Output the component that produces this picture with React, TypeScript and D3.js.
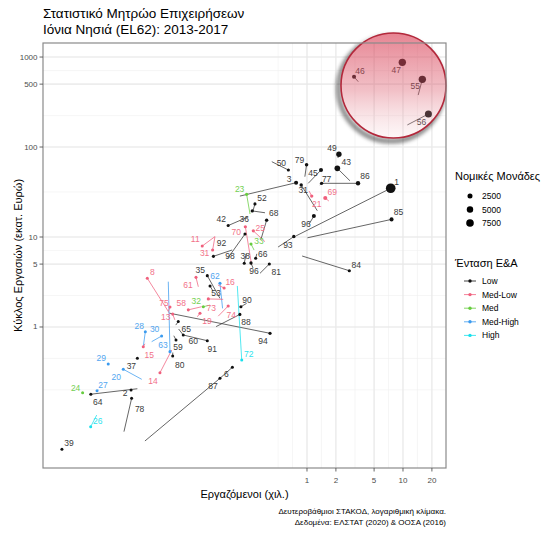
import React, { useEffect } from "react";
import * as d3 from "d3";

// ---------------- DATA ----------------
const codes = ["1","85","84","86","43","49","77","45","79","50","3","31","21","69","96","93","23","52","36","42","68","70","25","33","11","31","92","98","38","66","96","81","35","53","62","16","61","58","32","73","74","19","90","88","94","72","8","63","75","13","65","60","91","59","80","28","15","30","14","29","37","20","24","27","64","2","78","26","39","87","6","46","47","55","56"];
const intensity = ["Low","Low","Low","Low","Low","Low","Low","Low","Low","Low","Low","Low","Med-Low","Med-Low","Low","Low","Med","Low","Low","Low","Low","Med-Low","Med-Low","Med","Med-Low","Med-Low","Low","Low","Low","Low","Low","Low","Low","Low","Med-High","Med-Low","Med-Low","Med-Low","Med","Med-Low","Med-Low","Med-Low","Low","Low","Low","High","Med-Low","Med-High","Med-Low","Med-Low","Low","Low","Low","Low","Low","Med-High","Med-Low","Med-High","Med-Low","Med-High","Low","Med-High","Med","Med-High","Low","Low","Low","High","Low","Low","Low","Low","Low","Low","Low"];
const legalUnits = [13000,1100,150,1600,3500,3100,300,1100,500,150,1100,400,300,1200,1100,500,200,150,200,100,400,200,200,150,50,150,100,100,60,100,300,150,100,30,100,80,20,30,40,150,150,40,100,60,200,20,30,60,30,40,30,10,20,20,20,5,10,10,30,3,5,8,2,3,5,10,3,2,1,20,40,1100,7000,7000,6200];
const emp2013 = [0.77,1.01,0.89,1.42,2.8,2.1,1.36,1.03,0.95,0.43,0.2,1.28,1.05,1.69,1.05,0.5,0.255,0.272,0.365,0.243,0.33,0.265,0.365,0.281,0.11,0.11,0.166,0.15,0.232,0.3,0.274,0.324,0.124,0.105,0.132,0.118,0.0738,0.08,0.0977,0.134,0.119,0.072,0.235,0.113,0.0374,0.188,0.0374,0.0359,0.036,0.042,0.043,0.046,0.0514,0.041,0.04,0.0197,0.0205,0.0241,0.039,0.0085,0.0171,0.019,0.0046,0.0067,0.0171,0.0147,0.0124,0.00645,0.0028,0.0205,0.124,3.42,9.6,14.4,11.1];
const turn2013 = [10.3,9.8,6.15,39.5,42.2,75.5,38,39.5,46.8,68.7,28.5,19.6,32.5,25.1,13.9,7.74,18,19.1,18.6,16.7,9.26,4.89,8.87,7.17,10.1,10.1,7.17,5.84,6.47,6.5,4.53,3.95,2.08,2.5,1.61,2.93,2.8,1.68,1.75,2.03,1.32,1.3,1.83,1.01,1.42,2.86,1.39,3.19,1.5,1.2,1.05,0.95,0.815,0.8,0.52,0.604,0.65,0.687,0.555,0.388,0.449,0.262,0.186,0.2,0.206,0.199,0.0687,0.105,0.0438,0.0541,0.269,532,850,378,176];
const emp2017 = [7.45,7.6,2.76,3.4,2.07,2.15,1.42,1.4,0.99,0.64,0.77,0.87,1.12,1.55,1.18,0.73,0.235,0.287,0.269,0.151,0.38,0.228,0.276,0.261,0.081,0.104,0.106,0.226,0.222,0.292,0.261,0.405,0.0915,0.0977,0.124,0.137,0.0698,0.058,0.0832,0.0938,0.151,0.0768,0.205,0.2,0.412,0.209,0.0217,0.0374,0.0374,0.0399,0.0456,0.0514,0.0915,0.0432,0.0399,0.0207,0.0197,0.0306,0.0294,0.0085,0.0171,0.0122,0.0046,0.0065,0.0056,0.0147,0.0149,0.00558,0.0028,0.124,0.167,3.09,9.84,15.9,18.4];
const turn2017 = [34.8,15.7,4.22,39.5,58,83,39.5,55.5,63.6,55.5,40.1,37.8,28.5,27.1,17.1,10.1,29.8,23.3,19.5,13.4,15.4,13,11.7,8.36,7.94,7.17,6.1,10.8,5.1,5.8,5.14,5.01,3.72,2.86,3.06,2.71,3.56,1.55,1.68,2.05,1.71,1.42,1.68,1.38,0.851,0.43,3.48,0.532,1.67,1.39,1.15,0.815,0.704,0.717,0.476,0.887,0.604,0.794,0.31,0.388,0.449,0.339,0.186,0.196,0.179,0.199,0.161,0.078,0.0438,0.269,0.357,604,873,565,233];

const intensityLevels = ["Low","Med-Low","Med","Med-High","High"];
const sizeBreaks = [2500, 5000, 7500];
const xTicks = [1, 2, 5, 10, 20];
const yTicks = [1, 5, 10, 100, 500, 1000];
const highlightCenter = { emp: 7.96, turn: 482 };

const titleLines = ["Στατιστικό Μητρώο Επιχειρήσεων", "Ιόνια Νησιά (EL62): 2013-2017"];
const xTitle = "Εργαζόμενοι (χιλ.)";
const yTitle = "Κύκλος Εργασιών (εκατ. Ευρώ)";
const captionLines = ["Δευτεροβάθμιοι ΣΤΑΚΟΔ, λογαριθμική κλίμακα.", "Δεδομένα: ΕΛΣΤΑΤ (2020) & ΟΟΣΑ (2016)"];
const sizeLegendTitle = "Νομικές Μονάδες";
const colorLegendTitle = "Ένταση Ε&Α";

// ---------------- LAYOUT ----------------
const labelNudge: [number, number][] = [
  [6,-6],[7,-7],[7,-6],[7,-7],[9,-6],[-7,-6],[5,-4],[-8,3],[-7,-5],[-7,-7],[-7,-4],[2,5],[5,8],[7,-6],[-8,8],[-6,8],
  [-7,-5],[7,-6],[-8,8],[-7,-7],[7,-7],[-9,5],[7,-3],[8,-3],[-7,-7],[-8,3],[8,-13],[-15,22],[1,-7],[7,-4],[3,8],[7,8],
  [-7,-6],[6,7],[-5,-7],[6,-6],[-8,8],[-7,-7],[-7,-6],[3,9],[3,9],[7,8],[6,-7],[6,8],[-7,8],[7,-6],[5,-6],[-7,-7],
  [-6,-4],[-7,3],[8,7],[10,6],[5,8],[2,7],[7,9],[-6,-6],[6,8],[-7,-7],[-7,8],[-7,-6],[-6,8],[-7,8],[-7,-5],[6,-6],
  [7,8],[-6,3],[8,11],[7,-6],[7,-6],[-7,8],[-6,7],[6,-6],[-6,8],[-7,7],[-7,8]
];

const W = 551, H = 533;
const P = { left: 43, right: 446, top: 43, bottom: 468 };
const FONT = "'Liberation Sans', Arial, Helvetica, sans-serif";

const palette: Record<string, string> = {
  "Low": "#111111",
  "Med-Low": "#F0607D",
  "Med": "#66CC3F",
  "Med-High": "#3B9BEF",
  "High": "#18E0EC",
};
const labelColor: Record<string, string> = {
  "Low": "#3a3a3a",
  "Med-Low": "#F27289",
  "Med": "#74CF52",
  "Med-High": "#52A6F0",
  "High": "#2EE3EE",
};

function minorBreaks(majorsLog: number[], lo: number, hi: number): number[] {
  const b = [...majorsLog].sort((a, c) => a - c);
  const bd = b[1] - b[0];
  if (lo < b[0]) b.unshift(b[0] - bd);
  if (hi > b[b.length - 1]) b.push(b[b.length - 1] + bd);
  const out: number[] = [];
  for (let i = 0; i < b.length - 1; i++) { out.push(b[i]); out.push((b[i] + b[i + 1]) / 2); }
  out.push(b[b.length - 1]);
  return out.filter((v) => v >= lo && v <= hi);
}

export default function App() {
  useEffect(() => {
    document.body.style.margin = "0";
  }, []);

  const x = d3.scaleLog().domain([Math.pow(10, -2.75), Math.pow(10, 1.448)]).range([P.left, P.right]);
  const y = d3.scaleLog().domain([Math.pow(10, -1.567), Math.pow(10, 3.156)]).range([P.bottom, P.top]);
  const area = d3.scaleLinear().domain([0, 7500]).range([2.25, 14.44]);
  const r = (n: number) => Math.sqrt(area(n));

  const xl = x.domain().map(Math.log10);
  const yl = y.domain().map(Math.log10);
  const xMinor = minorBreaks(xTicks.map(Math.log10), xl[0], xl[1]).map((v) => Math.pow(10, v));
  const yMinor = minorBreaks(yTicks.map(Math.log10), yl[0], yl[1]).map((v) => Math.pow(10, v));

  const idx = d3.range(codes.length);
  const cx = x(highlightCenter.emp), cy = y(highlightCenter.turn), cr = 52.5;

  return (
    <svg width={W} height={H} viewBox={`0 0 ${W} ${H}`} style={{ display: "block", fontFamily: FONT }}>
      <defs>
        <linearGradient id="hl" x1="0" y1="0" x2="0" y2="1">
          <stop offset="0" stopColor="#d8384f" stopOpacity="0.62" />
          <stop offset="0.55" stopColor="#dc5a6c" stopOpacity="0.38" />
          <stop offset="1" stopColor="#f2c8cc" stopOpacity="0.15" />
        </linearGradient>
        <filter id="blur" x="-30%" y="-30%" width="160%" height="160%">
          <feGaussianBlur stdDeviation="2.2" />
        </filter>
        <mask id="outside">
          <rect x="0" y="0" width={W} height={H} fill="white" />
          <circle cx={cx} cy={cy} r={cr} fill="black" />
        </mask>
        <clipPath id="panel">
          <rect x={P.left} y={P.top} width={P.right - P.left} height={P.bottom - P.top} />
        </clipPath>
      </defs>
      <rect x={0} y={0} width={W} height={H} fill="#ffffff" />

      {/* title */}
      <text x={P.left} y={18} fontSize={13.5} fill="#000">{titleLines[0]}</text>
      <text x={P.left} y={34} fontSize={13.5} fill="#000">{titleLines[1]}</text>

      {/* panel */}
      <rect x={P.left} y={P.top} width={P.right - P.left} height={P.bottom - P.top} fill="#fff" />
      <g clipPath="url(#panel)">
        {yMinor.map((v, i) => (
          <line key={"ym" + i} x1={P.left} x2={P.right} y1={y(v)} y2={y(v)} stroke="#f0f0f0" strokeWidth={0.6} />
        ))}
        {xMinor.map((v, i) => (
          <line key={"xm" + i} y1={P.top} y2={P.bottom} x1={x(v)} x2={x(v)} stroke="#f0f0f0" strokeWidth={0.6} />
        ))}
        {yTicks.map((v) => (
          <line key={"yM" + v} x1={P.left} x2={P.right} y1={y(v)} y2={y(v)} stroke="#e8e8e8" strokeWidth={1.1} />
        ))}
        {xTicks.map((v) => (
          <line key={"xM" + v} y1={P.top} y2={P.bottom} x1={x(v)} x2={x(v)} stroke="#e8e8e8" strokeWidth={1.1} />
        ))}

        {/* segments */}
        {idx.map((i) => (
          <line key={"s" + i}
            x1={x(emp2013[i])} y1={y(turn2013[i])} x2={x(emp2017[i])} y2={y(turn2017[i])}
            stroke={intensity[i] === "Low" ? "#333" : palette[intensity[i]]}
            strokeWidth={0.75} />
        ))}
        {/* points */}
        {idx.map((i) => (
          <circle key={"p" + i} cx={x(emp2017[i])} cy={y(turn2017[i])} r={r(legalUnits[i])} fill={palette[intensity[i]]} />
        ))}
        {/* labels */}
        {idx.map((i) => (
          <text key={"l" + i}
            x={x(emp2017[i]) + labelNudge[i][0]} y={y(turn2017[i]) + labelNudge[i][1]}
            fontSize={8.5} textAnchor="middle" dominantBaseline="central"
            fill={labelColor[intensity[i]]}>{codes[i]}</text>
        ))}

        {/* highlight circle */}
        <g mask="url(#outside)">
          <circle cx={cx - 2.5} cy={cy + 3} r={cr} fill="none" stroke="#000" strokeOpacity={0.45} strokeWidth={3.5} filter="url(#blur)" />
        </g>
      </g>
      <circle cx={cx - 2.5} cy={cy + 3} r={cr} fill="none" stroke="#000" strokeOpacity={0.3} strokeWidth={3} filter="url(#blur)" mask="url(#outside)" />
      <circle cx={cx} cy={cy} r={cr} fill="url(#hl)" stroke="#b3283b" strokeWidth={1.6} />

      {/* panel border */}
      <rect x={P.left} y={P.top} width={P.right - P.left} height={P.bottom - P.top} fill="none" stroke="#8a8a8a" strokeWidth={1.2} />

      {/* y axis */}
      {yTicks.map((v) => (
        <g key={"yt" + v}>
          <line x1={P.left - 3.5} x2={P.left} y1={y(v)} y2={y(v)} stroke="#555" strokeWidth={0.9} />
          <text x={P.left - 5.5} y={y(v)} fontSize={8} fill="#4d4d4d" textAnchor="end" dominantBaseline="central">{v}</text>
        </g>
      ))}
      {/* x axis */}
      {xTicks.map((v) => (
        <g key={"xt" + v}>
          <line y1={P.bottom} y2={P.bottom + 3.5} x1={x(v)} x2={x(v)} stroke="#555" strokeWidth={0.9} />
          <text x={x(v)} y={P.bottom + 12} fontSize={8} fill="#4d4d4d" textAnchor="middle" dominantBaseline="central">{v}</text>
        </g>
      ))}
      <text x={(P.left + P.right) / 2} y={498} fontSize={11} fill="#000" textAnchor="middle">{xTitle}</text>
      <text transform={`translate(22,${(P.top + P.bottom) / 2}) rotate(-90)`} fontSize={11} fill="#000" textAnchor="middle">{yTitle}</text>

      {/* caption */}
      <text x={P.right} y={514} fontSize={8} fill="#000" textAnchor="end">{captionLines[0]}</text>
      <text x={P.right} y={525} fontSize={8} fill="#000" textAnchor="end">{captionLines[1]}</text>

      {/* size legend */}
      <text x={455} y={180} fontSize={11} fill="#000">{sizeLegendTitle}</text>
      {sizeBreaks.map((b, i) => (
        <g key={"sl" + b}>
          <circle cx={470} cy={196 + i * 13.5} r={r(b)} fill="#000" />
          <text x={482} y={196 + i * 13.5} fontSize={8.5} fill="#000" dominantBaseline="central">{b}</text>
        </g>
      ))}

      {/* colour legend */}
      <text x={455} y={267} fontSize={11} fill="#000">{colorLegendTitle}</text>
      {intensityLevels.map((lv, i) => (
        <g key={"cl" + lv}>
          <line x1={464} x2={476} y1={281 + i * 13.6} y2={281 + i * 13.6} stroke={palette[lv]} strokeWidth={0.8} />
          <circle cx={470} cy={281 + i * 13.6} r={1.7} fill={palette[lv]} />
          <text x={482} y={281 + i * 13.6} fontSize={8.5} fill="#000" dominantBaseline="central">{lv}</text>
        </g>
      ))}
    </svg>
  );
}
